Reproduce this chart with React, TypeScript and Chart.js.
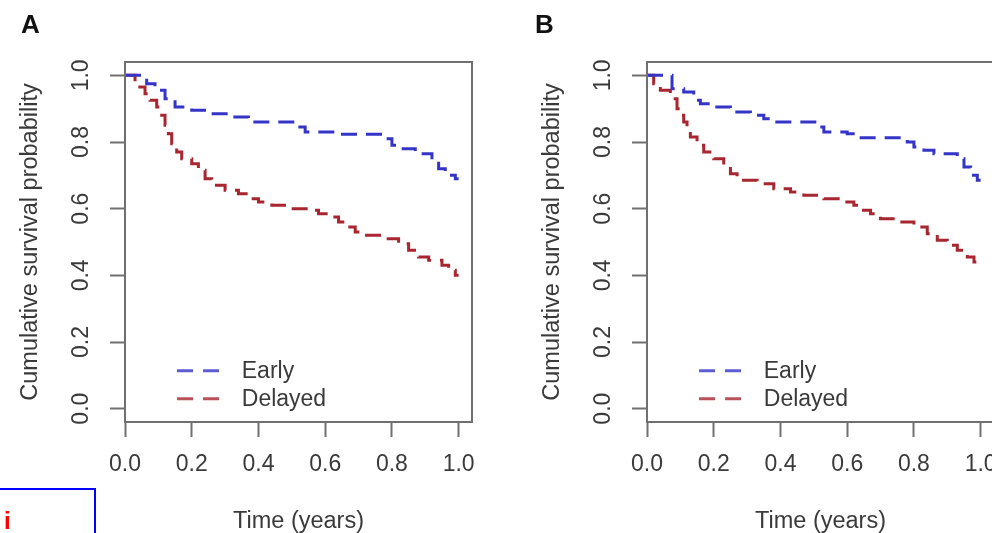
import React, { useEffect, useRef } from "react";
import { Chart, registerables } from "chart.js";

Chart.register(...registerables);

// ---- data ----
const TICKS = [0, 0.2, 0.4, 0.6, 0.8, 1.0];
const SERIES_LABELS = ["Early", "Delayed"];
const SERIES_COLORS = ["#3434c8", "#a82630"];
const X_TITLE = "Time (years)";
const Y_TITLE = "Cumulative survival probability";
const PANEL_LABELS = ["A", "B"];

// Panel A
const A_EARLY_T = [0, 0.065, 0.09, 0.12, 0.15, 0.2, 0.25, 0.31, 0.37, 0.51, 0.54, 0.63, 0.78, 0.8, 0.82, 0.87, 0.92, 0.94, 0.96, 0.99, 1.0];
const A_EARLY_S = [1.0, 0.975, 0.955, 0.93, 0.905, 0.895, 0.885, 0.875, 0.86, 0.845, 0.83, 0.823, 0.81, 0.79, 0.78, 0.765, 0.745, 0.72, 0.7, 0.69, 0.69];
const A_DELAYED_T = [0, 0.03, 0.06, 0.075, 0.095, 0.11, 0.12, 0.13, 0.14, 0.155, 0.17, 0.2, 0.22, 0.24, 0.26, 0.3, 0.34, 0.37, 0.4, 0.44, 0.49, 0.55, 0.58, 0.61, 0.64, 0.66, 0.69, 0.71, 0.77, 0.82, 0.85, 0.88, 0.91, 0.95, 0.97, 0.99, 1.0];
const A_DELAYED_S = [1.0, 0.965, 0.945, 0.925, 0.905, 0.88, 0.85, 0.825, 0.795, 0.77, 0.75, 0.735, 0.715, 0.69, 0.67, 0.655, 0.645, 0.63, 0.62, 0.61, 0.6, 0.595, 0.585, 0.575, 0.56, 0.545, 0.53, 0.52, 0.51, 0.495, 0.475, 0.455, 0.445, 0.43, 0.415, 0.4, 0.4];

// Panel B
const B_EARLY_T = [0, 0.075, 0.11, 0.14, 0.16, 0.2, 0.25, 0.31, 0.35, 0.38, 0.51, 0.53, 0.6, 0.63, 0.78, 0.8, 0.83, 0.86, 0.93, 0.95, 0.97, 0.99, 1.0];
const B_EARLY_S = [1.0, 0.96, 0.95, 0.925, 0.915, 0.905, 0.89, 0.88, 0.87, 0.86, 0.845, 0.83, 0.825, 0.813, 0.8, 0.785, 0.775, 0.765, 0.75, 0.725, 0.7, 0.685, 0.685];
const B_DELAYED_T = [0, 0.02, 0.04, 0.07, 0.09, 0.1, 0.11, 0.12, 0.13, 0.15, 0.17, 0.2, 0.23, 0.25, 0.27, 0.33, 0.38, 0.43, 0.47, 0.53, 0.58, 0.62, 0.64, 0.67, 0.7, 0.75, 0.8, 0.84, 0.87, 0.9, 0.93, 0.96, 0.98, 1.0];
const B_DELAYED_S = [1.0, 0.975, 0.955, 0.93, 0.9, 0.88, 0.86, 0.84, 0.815, 0.79, 0.77, 0.75, 0.73, 0.705, 0.685, 0.675, 0.66, 0.65, 0.64, 0.63, 0.62, 0.61, 0.595, 0.585, 0.57, 0.56, 0.545, 0.525, 0.505, 0.49, 0.475, 0.455, 0.44, 0.435];

const FONT = "'Liberation Sans', Arial, Helvetica, sans-serif";
const TEXT_COLOR = "#3a3a3a";
const AXIS_COLOR = "#707070";

const toPoints = (t: number[], s: number[]) => t.map((v, i) => ({ x: v, y: s[i] }));

const framePlugin = {
  id: "rframe",
  afterDraw(chart: any) {
    const { ctx, chartArea } = chart;
    const { left, top, right, bottom } = chartArea;
    ctx.save();
    ctx.strokeStyle = AXIS_COLOR;
    ctx.lineWidth = 2;
    ctx.strokeRect(left, top, right - left, bottom - top);

    // legend inside plot region (bottom-left)
    const xs = chart.scales.x;
    const ys = chart.scales.y;
    const x0 = xs.getPixelForValue(0.156);
    const x1 = xs.getPixelForValue(0.285);
    const xt = xs.getPixelForValue(0.35);
    const rows = [0.114, 0.03];
    ctx.font = `23px ${FONT}`;
    ctx.textBaseline = "middle";
    ctx.textAlign = "left";
    chart.data.datasets.forEach((ds: any, i: number) => {
      const y = ys.getPixelForValue(rows[i]);
      ctx.strokeStyle = ds.borderColor;
      ctx.globalAlpha = 0.8;
      ctx.lineWidth = 3;
      ctx.setLineDash([16, 10]);
      ctx.beginPath();
      ctx.moveTo(x0, y);
      ctx.lineTo(x1, y);
      ctx.stroke();
      ctx.setLineDash([]);
      ctx.globalAlpha = 1;
      ctx.fillStyle = TEXT_COLOR;
      ctx.fillText(ds.label, xt, y + 1);
    });
    ctx.restore();
  },
};

function makeConfig(earlyT: number[], earlyS: number[], delT: number[], delS: number[]): any {
  const setTicks = (scale: any) => {
    scale.ticks = TICKS.map((v) => ({ value: v }));
  };
  return {
    type: "line",
    data: {
      datasets: [
        {
          label: SERIES_LABELS[0],
          data: toPoints(earlyT, earlyS),
          borderColor: SERIES_COLORS[0],
          borderWidth: 3,
          borderDash: [16, 9],
          stepped: true,
          pointRadius: 0,
          fill: false,
        },
        {
          label: SERIES_LABELS[1],
          data: toPoints(delT, delS),
          borderColor: SERIES_COLORS[1],
          borderWidth: 3,
          borderDash: [16, 9],
          stepped: true,
          pointRadius: 0,
          fill: false,
        },
      ],
    },
    options: {
      animation: false,
      responsive: false,
      maintainAspectRatio: false,
      layout: { padding: { left: 19, top: 62, right: 28, bottom: 0 } },
      plugins: { legend: { display: false }, tooltip: { enabled: false }, title: { display: false } },
      scales: {
        x: {
          type: "linear",
          min: 0,
          max: 1.04,
          afterBuildTicks: setTicks,
          afterFit: (s: any) => {
            s.height = 111;
          },
          border: { display: false },
          grid: {
            drawOnChartArea: false,
            drawTicks: true,
            tickLength: 15,
            tickWidth: 2,
            tickColor: AXIS_COLOR,
          },
          ticks: {
            padding: 14,
            color: TEXT_COLOR,
            font: { family: FONT, size: 23, lineHeight: 1.2 },
            maxRotation: 0,
            minRotation: 0,
            autoSkip: false,
            callback: (v: any) => Number(v).toFixed(1),
          },
          title: {
            display: true,
            text: X_TITLE,
            color: TEXT_COLOR,
            font: { family: FONT, size: 23.5, lineHeight: 1 },
            padding: { top: 0, bottom: 0 },
          },
        },
        y: {
          type: "linear",
          min: -0.04,
          max: 1.04,
          afterBuildTicks: setTicks,
          afterFit: (s: any) => {
            s.width = 106;
          },
          border: { display: false },
          grid: {
            drawOnChartArea: false,
            drawTicks: true,
            tickLength: 15,
            tickWidth: 2,
            tickColor: AXIS_COLOR,
          },
          ticks: {
            padding: 12,
            color: TEXT_COLOR,
            crossAlign: "center",
            font: { family: FONT, size: 23, lineHeight: 1.2 },
            minRotation: 90,
            maxRotation: 90,
            autoSkip: false,
            callback: (v: any) => Number(v).toFixed(1),
          },
          title: {
            display: true,
            text: Y_TITLE,
            color: TEXT_COLOR,
            font: { family: FONT, size: 23.5, lineHeight: 1 },
            padding: { top: 0, bottom: 0 },
          },
        },
      },
    },
    plugins: [framePlugin],
  };
}

function Panel(props: { left: number; cfg: () => any }) {
  const ref = useRef<HTMLCanvasElement | null>(null);
  useEffect(() => {
    if (!ref.current) return;
    const chart = new Chart(ref.current, props.cfg());
    return () => chart.destroy();
  }, []);
  return (
    <canvas
      ref={ref}
      width={500}
      height={533}
      style={{ position: "absolute", left: props.left, top: 0, width: 500, height: 533 }}
    />
  );
}

export default function App() {
  const labelStyle: React.CSSProperties = {
    position: "absolute",
    top: 11,
    fontFamily: FONT,
    fontWeight: "bold",
    fontSize: 26,
    lineHeight: "26px",
    color: "#111",
  };
  return (
    <div
      style={{
        position: "absolute",
        left: 0,
        top: 0,
        width: 992,
        height: 533,
        overflow: "hidden",
        background: "#fff",
      }}
    >
      <Panel left={0} cfg={() => makeConfig(A_EARLY_T, A_EARLY_S, A_DELAYED_T, A_DELAYED_S)} />
      <Panel left={522} cfg={() => makeConfig(B_EARLY_T, B_EARLY_S, B_DELAYED_T, B_DELAYED_S)} />
      <div style={{ ...labelStyle, left: 21 }}>{PANEL_LABELS[0]}</div>
      <div style={{ ...labelStyle, left: 535 }}>{PANEL_LABELS[1]}</div>
      <div
        style={{
          position: "absolute",
          left: -2,
          top: 488,
          width: 98,
          height: 60,
          border: "2px solid #0000ff",
          boxSizing: "border-box",
        }}
      >
        <span
          style={{
            position: "absolute",
            left: 4,
            top: 19,
            fontFamily: FONT,
            fontWeight: "bold",
            fontSize: 24,
            lineHeight: "24px",
            color: "#ff0000",
          }}
        >
          i
        </span>
      </div>
    </div>
  );
}
